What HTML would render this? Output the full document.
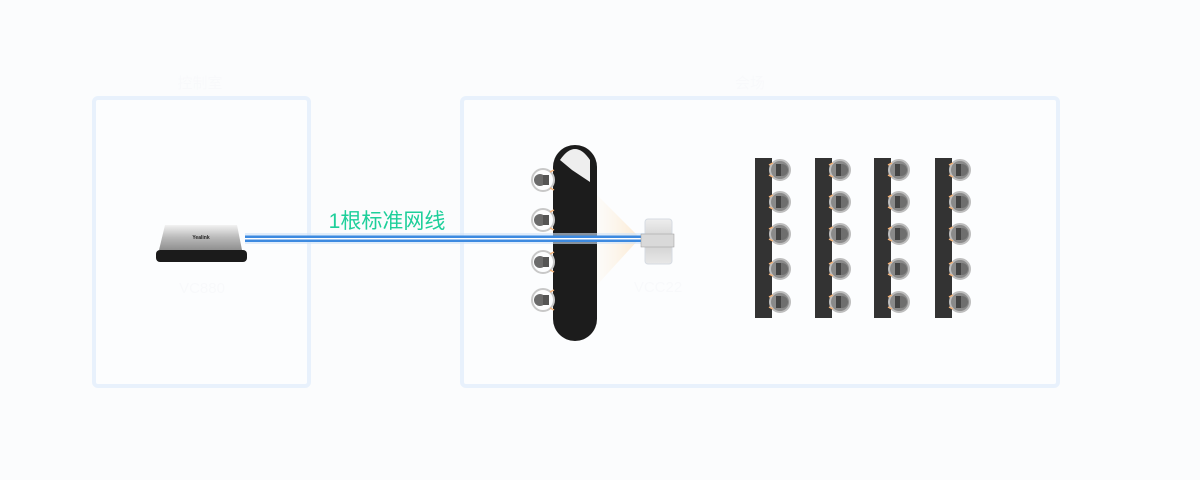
<!DOCTYPE html>
<html><head><meta charset="utf-8"><style>
html,body{margin:0;padding:0;background:#fbfcfd;width:1200px;height:480px;overflow:hidden}
svg{display:block}
</style></head><body>
<svg width="1200" height="480" viewBox="0 0 1200 480" xmlns="http://www.w3.org/2000/svg">
<defs>
<linearGradient id="sil" x1="0" y1="0" x2="0" y2="1"><stop offset="0" stop-color="#f2f2f2"/><stop offset="0.5" stop-color="#b9b9b9"/><stop offset="1" stop-color="#8f8f8f"/></linearGradient>
<linearGradient id="cam" x1="0" y1="0" x2="0" y2="1"><stop offset="0" stop-color="#eeeeee"/><stop offset="0.5" stop-color="#cfcfcf"/><stop offset="1" stop-color="#e8e8e8"/></linearGradient>
<linearGradient id="beam" x1="0" y1="0" x2="1" y2="0"><stop offset="0" stop-color="#fdf3e4" stop-opacity="0.2"/><stop offset="1" stop-color="#fbe7cc" stop-opacity="0.9"/></linearGradient>
<g id="chair">
<circle cx="0" cy="0" r="10" fill="#8a8a8a" stroke="#bdbdbd" stroke-width="2"/>
<circle cx="2" cy="0" r="6" fill="#6e6e6e"/>
<rect x="-4" y="-6" width="5" height="12" fill="#444"/>
<line x1="-7" y1="-7" x2="-11" y2="-5" stroke="#f2b27a" stroke-width="1.5"/>
<line x1="-7" y1="7" x2="-11" y2="5" stroke="#f2b27a" stroke-width="1.5"/>
</g>
<g id="chairL">
<circle cx="0" cy="0" r="11" fill="none" stroke="#c8c8c8" stroke-width="2"/>
<circle cx="-3" cy="0" r="6" fill="#6b6b6b"/>
<rect x="0" y="-5" width="6" height="10" fill="#555"/>
<line x1="7" y1="-8" x2="11" y2="-10" stroke="#f2b27a" stroke-width="1.5"/>
<line x1="7" y1="8" x2="11" y2="10" stroke="#f2b27a" stroke-width="1.5"/>
</g>
<g id="row">
<rect x="0" y="0" width="17" height="160" fill="#333"/>
<use href="#chair" x="25" y="12"/>
<use href="#chair" x="25" y="44"/>
<use href="#chair" x="25" y="76"/>
<use href="#chair" x="25" y="111"/>
<use href="#chair" x="25" y="144"/>
</g>
</defs>
<rect x="94" y="98" width="215" height="288" rx="4" fill="#fcfdfe" stroke="#e8f1fc" stroke-width="4"/>
<rect x="462" y="98" width="596" height="288" rx="4" fill="#fcfdfe" stroke="#e8f1fc" stroke-width="4"/>
<text x="200" y="88" font-family="Liberation Sans,Noto Sans CJK SC,sans-serif" font-size="15" fill="#f8f9fb" text-anchor="middle">控制室</text>
<text x="750" y="88" font-family="Liberation Sans,Noto Sans CJK SC,sans-serif" font-size="15" fill="#f8f9fb" text-anchor="middle">会场</text>
<text x="202" y="293" font-family="Liberation Sans,sans-serif" font-size="15" fill="#f8f9fb" text-anchor="middle">VC880</text>
<text x="658" y="292" font-family="Liberation Sans,sans-serif" font-size="15" fill="#f8f9fb" text-anchor="middle">VCC22</text>
<polygon points="597,195 640,238 597,285" fill="url(#beam)"/>
<text x="387" y="228" font-family="Liberation Sans,Noto Sans CJK SC,sans-serif" font-size="21" fill="#1ecf9a" text-anchor="middle">1根标准网线</text>
<polygon points="165,225 237,225 242,250 159,250" fill="url(#sil)"/>
<text x="201" y="239" font-family="Liberation Sans,sans-serif" font-size="5" font-weight="bold" fill="#222" text-anchor="middle">Yealink</text>
<rect x="156" y="250" width="91" height="12" rx="4" fill="#1b1b1b"/>
<rect x="553" y="145" width="44" height="196" rx="22" fill="#1c1c1c"/>
<path d="M560,160 Q575,138 590,160 L590,182 L572,170 Z" fill="#eee"/>
<use href="#chairL" x="543" y="180"/>
<use href="#chairL" x="543" y="220"/>
<use href="#chairL" x="543" y="262"/>
<use href="#chairL" x="543" y="300"/>
<rect x="245" y="233" width="400" height="11" fill="#cfe3f8" opacity="0.6"/>
<rect x="245" y="235.5" width="400" height="2.5" fill="#3d8ae0"/>
<rect x="245" y="238" width="400" height="1.5" fill="#ffffff"/>
<rect x="245" y="239.5" width="400" height="2.5" fill="#3d8ae0"/>
<rect x="645" y="219" width="27" height="45" rx="3" fill="url(#cam)" stroke="#d6dbe2"/>
<rect x="641" y="234" width="33" height="13" fill="#d9d9d9" stroke="#999" stroke-width="0.5"/>
<use href="#row" x="755" y="158"/>
<use href="#row" x="815" y="158"/>
<use href="#row" x="874" y="158"/>
<use href="#row" x="935" y="158"/>
</svg>
</body></html>
